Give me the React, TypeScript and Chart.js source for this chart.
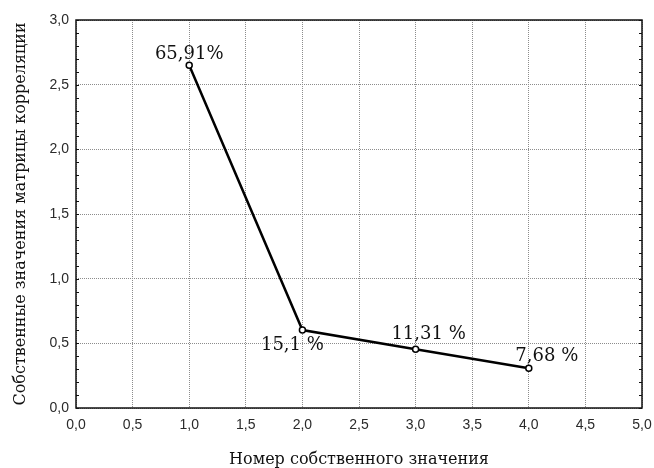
import React, { useEffect, useRef } from "react";
import { Chart, registerables } from "chart.js";

Chart.register(...registerables);

const componentNumbers = [1, 2, 3, 4];
const eigenvalues = [2.65, 0.603, 0.455, 0.307];
const varianceLabels = ["65,91%", "15,1 %", "11,31 %", "7,68 %"];
const xTitle = "Номер собственного значения";
const yTitle = "Собственные значения матрицы корреляции";

// label placement (style): offset of label center from its point, px
const labelOffsets = [
  [0, -11],
  [-10, 15],
  [13, -15],
  [18, -12],
];

const fmt = (v: number) => v.toFixed(1).replace(".", ",");

export default function App() {
  const ref = useRef<HTMLCanvasElement>(null);
  useEffect(() => {
    const canvas = ref.current!;
    const decor = {
      id: "decor",
      afterDatasetsDraw(chart: any) {
        const { ctx, chartArea } = chart;
        const { left, right, top, bottom } = chartArea;
        const ys = chart.scales.y;
        ctx.save();
        // frame
        ctx.strokeStyle = "#111";
        ctx.lineWidth = 1.5;
        ctx.strokeRect(left, top, right - left, bottom - top);
        // minor ticks on y (left and right, inside)
        ctx.lineWidth = 1;
        for (let i = 0; i <= 30; i++) {
          const y = Math.round(ys.getPixelForValue(i / 10)) + 0.5;
          ctx.beginPath();
          ctx.moveTo(left, y);
          ctx.lineTo(left + 3, y);
          ctx.moveTo(right, y);
          ctx.lineTo(right - 3, y);
          ctx.stroke();
        }
        // data labels
        const meta = chart.getDatasetMeta(0);
        ctx.fillStyle = "#111";
        ctx.font = "18px 'DejaVu Serif'";
        ctx.textAlign = "center";
        ctx.textBaseline = "middle";
        meta.data.forEach((pt: any, i: number) => {
          const [dx, dy] = labelOffsets[i];
          ctx.fillText(varianceLabels[i], pt.x + dx, pt.y + dy);
        });
        // axis titles
        ctx.font = "16px 'DejaVu Serif'";
        ctx.fillText(xTitle, (left + right) / 2, 460);
        ctx.save();
        ctx.translate(21, (top + bottom) / 2);
        ctx.rotate(-Math.PI / 2);
        ctx.fillText(yTitle, 0, 0);
        ctx.restore();
        ctx.restore();
      },
    };
    const gridOpts = {
      color: "#8c8c8c",
      lineWidth: 1,
      drawTicks: false,
    };
    const chart = new Chart(canvas, {
      type: "line",
      data: {
        datasets: [
          {
            data: componentNumbers.map((x, i) => ({ x, y: eigenvalues[i] })),
            borderColor: "#000",
            borderWidth: 2.5,
            pointRadius: 3,
            pointBorderWidth: 1.5,
            pointBackgroundColor: "#fff",
            pointBorderColor: "#000",
            tension: 0,
          },
        ],
      },
      options: {
        responsive: false,
        animation: false,
        layout: { padding: { top: 20, right: 12, left: 0, bottom: 0 } },
        plugins: { legend: { display: false }, tooltip: { enabled: false } },
        scales: {
          x: {
            type: "linear",
            min: 0,
            max: 5,
            border: { display: false, dash: [1, 1] },
            grid: gridOpts,
            ticks: {
              stepSize: 0.5,
              padding: 9,
              color: "#2a2a2a",
              font: { family: "'Liberation Sans'", size: 14 },
              callback: (v: any) => fmt(Number(v)),
              maxRotation: 0,
            },
            afterFit: (s: any) => {
              s.height = 60;
              s.paddingLeft = 0;
              s.paddingRight = 0;
            },
          },
          y: {
            type: "linear",
            min: 0,
            max: 3,
            border: { display: false, dash: [1, 1] },
            grid: gridOpts,
            ticks: {
              stepSize: 0.5,
              padding: 7,
              color: "#2a2a2a",
              font: { family: "'Liberation Sans'", size: 14 },
              callback: (v: any) => fmt(Number(v)),
            },
            afterFit: (s: any) => {
              s.width = 76;
              s.paddingTop = 0;
              s.paddingBottom = 0;
            },
          },
        },
      },
      plugins: [decor],
    });
    return () => chart.destroy();
  }, []);
  return (
    <div style={{ position: "absolute", left: 0, top: 0, width: 654, height: 468, background: "#fff" }}>
      <canvas ref={ref} width={654} height={468} />
    </div>
  );
}
